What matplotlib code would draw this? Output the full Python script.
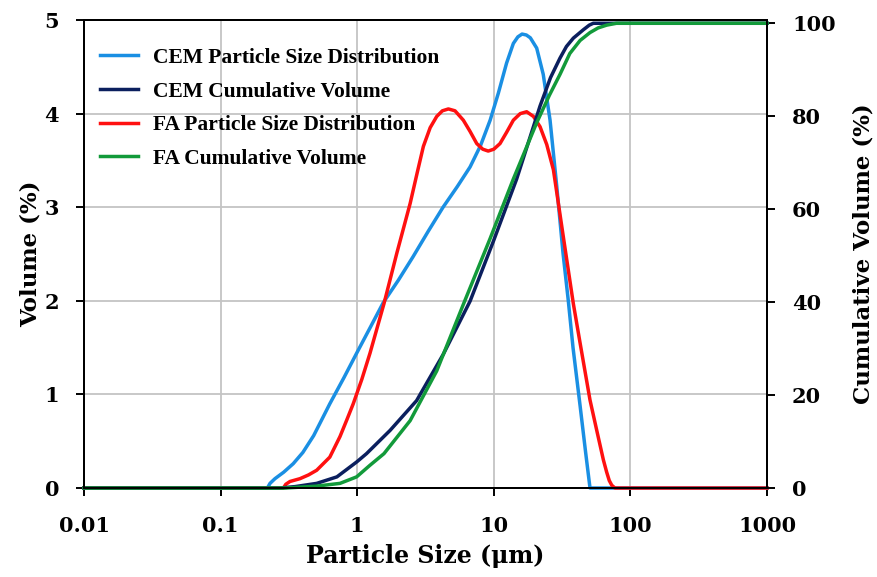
import matplotlib
matplotlib.use("Agg")
import matplotlib.pyplot as plt
from matplotlib.ticker import FixedLocator, FixedFormatter, NullLocator

# Particle size (um) and volume (%)
cem_psd_x = [0.01, 0.22, 0.23, 0.25, 0.29, 0.34, 0.40, 0.48, 0.55, 0.63, 0.80, 0.99, 1.25,
             1.55, 2.0, 2.56, 3.3, 4.25, 5.4, 6.7, 8.0, 9.4, 10.8, 12.4, 13.9, 15.0, 16.1,
             17.3, 18.5, 20.6, 23.0, 25.8, 28.9, 32.1, 35.1, 38.0, 42.8, 47.0, 50.6, 1000]
cem_psd_y = [0, 0, 0.05, 0.10, 0.17, 0.26, 0.38, 0.56, 0.73, 0.90, 1.18, 1.44, 1.72,
             1.98, 2.22, 2.47, 2.74, 3.00, 3.22, 3.43, 3.66, 3.93, 4.22, 4.54, 4.75, 4.82, 4.85,
             4.84, 4.81, 4.70, 4.42, 3.93, 3.22, 2.51, 2.00, 1.50, 0.88, 0.38, 0, 0]

fa_psd_x = [0.01, 0.288, 0.30, 0.322, 0.381, 0.44, 0.505, 0.63, 0.748, 0.84, 0.935, 1.08, 1.24,
            1.57, 1.95, 2.44, 2.75, 3.05, 3.42, 3.82, 4.2, 4.65, 5.2, 5.98, 6.7, 7.5, 8.3, 9.1,
            10.0, 11.1, 12.4, 13.9, 15.6, 17.4, 19.5, 21.8, 24.4, 27.3, 32.3, 38.2, 42.8,
            50.6, 57.0, 63.4, 67.0, 70.0, 73.0, 77.0, 1000]
fa_psd_y = [0, 0, 0.04, 0.07, 0.10, 0.14, 0.19, 0.33, 0.55, 0.73, 0.90, 1.16, 1.44,
            1.97, 2.51, 3.04, 3.37, 3.65, 3.85, 3.97, 4.03, 4.05, 4.03, 3.93, 3.81, 3.68, 3.62, 3.60,
            3.62, 3.68, 3.80, 3.93, 4.00, 4.02, 3.97, 3.86, 3.67, 3.40, 2.68, 1.97, 1.55,
            0.94, 0.60, 0.30, 0.17, 0.08, 0.03, 0, 0]

cem_cum_x = [0.01, 0.27, 0.35, 0.505, 0.71, 0.99, 1.17, 1.74, 2.72, 4.27, 6.7, 9.9, 14.7,
             21.8, 26.0, 30.5, 34.0, 38.2, 45.2, 50.0, 53.5, 1000]
cem_cum_y = [0, 0, 0.3, 1.0, 2.4, 5.6, 7.4, 12.4, 18.8, 28.8, 40.2, 53.0, 66.5,
             82.2, 88.3, 92.5, 95.0, 96.8, 98.6, 99.6, 100, 100]

fa_cum_x = [0.01, 0.30, 0.50, 0.748, 0.99, 1.24, 1.57, 2.44, 3.82, 5.98, 9.4, 13.9, 20.6,
            25.5, 30.5, 36.0, 42.8, 50.6, 58.0, 67.0, 79.0, 1000]
fa_cum_y = [0, 0, 0.4, 1.0, 2.4, 4.9, 7.4, 14.5, 25.2, 39.5, 53.7, 66.5, 78.6,
            84.5, 89.0, 93.5, 96.3, 98.0, 99.0, 99.6, 100, 100]

x_ticks = [0.01, 0.1, 1, 10, 100, 1000]
x_tick_labels = ["0.01", "0.1", "1", "10", "100", "1000"]

plt.rcParams['font.family'] = ['DejaVu Serif']
plt.rcParams['font.weight'] = 'bold'

fig = plt.figure(figsize=(8.77, 5.77), dpi=100)
ax1 = fig.add_axes([0.0958, 0.1542, 0.7788, 0.8111])
ax2 = ax1.twinx()

lw = 2.5
l1, = ax1.plot(cem_psd_x, cem_psd_y, color='#1A8FE3', lw=lw, clip_on=False,
               label='CEM Particle Size Distribution')
l3, = ax1.plot(fa_psd_x, fa_psd_y, color='#FF1010', lw=lw, clip_on=False,
               label='FA Particle Size Distribution')
l2, = ax2.plot(cem_cum_x, cem_cum_y, color='#0B1F5E', lw=lw, clip_on=False,
               label='CEM Cumulative Volume')
l4, = ax2.plot(fa_cum_x, fa_cum_y, color='#129A3A', lw=lw, clip_on=False,
               label='FA Cumulative Volume')

ax1.set_xscale('log')
ax1.set_xlim(0.01, 1000)
ax1.set_ylim(0, 5)
ax2.set_ylim(0, 100.7)
ax1.xaxis.set_major_locator(FixedLocator(x_ticks))
ax1.xaxis.set_major_formatter(FixedFormatter(x_tick_labels))
ax1.xaxis.set_minor_locator(NullLocator())
ax1.set_yticks([0, 1, 2, 3, 4, 5])
ax2.set_yticks([0, 20, 40, 60, 80, 100])

ax1.grid(True, color='#C4C4C4', lw=1.3)
ax1.set_axisbelow(True)

for ax in (ax1, ax2):
    for s in ax.spines.values():
        s.set_linewidth(1.4)
        s.set_color('black')
    ax.tick_params(labelsize=15, width=1.4, length=6, direction='out')
ax1.tick_params(axis='x', pad=14)
ax1.tick_params(axis='y', pad=12)
ax2.tick_params(axis='y', pad=12)

ax1.set_xlabel('Particle Size (\u03bcm)', fontsize=17, fontweight='bold', labelpad=6)
ax1.set_ylabel('Volume (%)', fontsize=16.5, fontweight='bold', labelpad=2)
ax2.set_ylabel('Cumulative Volume (%)', fontsize=16.5, fontweight='bold', labelpad=12)

ax2.legend([l1, l2, l3, l4], [l.get_label() for l in (l1, l2, l3, l4)],
           loc='upper left', bbox_to_anchor=(-0.005, 0.982), frameon=False,
           handlelength=1.75, labelspacing=0.63, handletextpad=0.7,
           prop={'family': 'Liberation Serif', 'weight': 'bold', 'size': 15.5})

fig.savefig('out.png', dpi=100)
